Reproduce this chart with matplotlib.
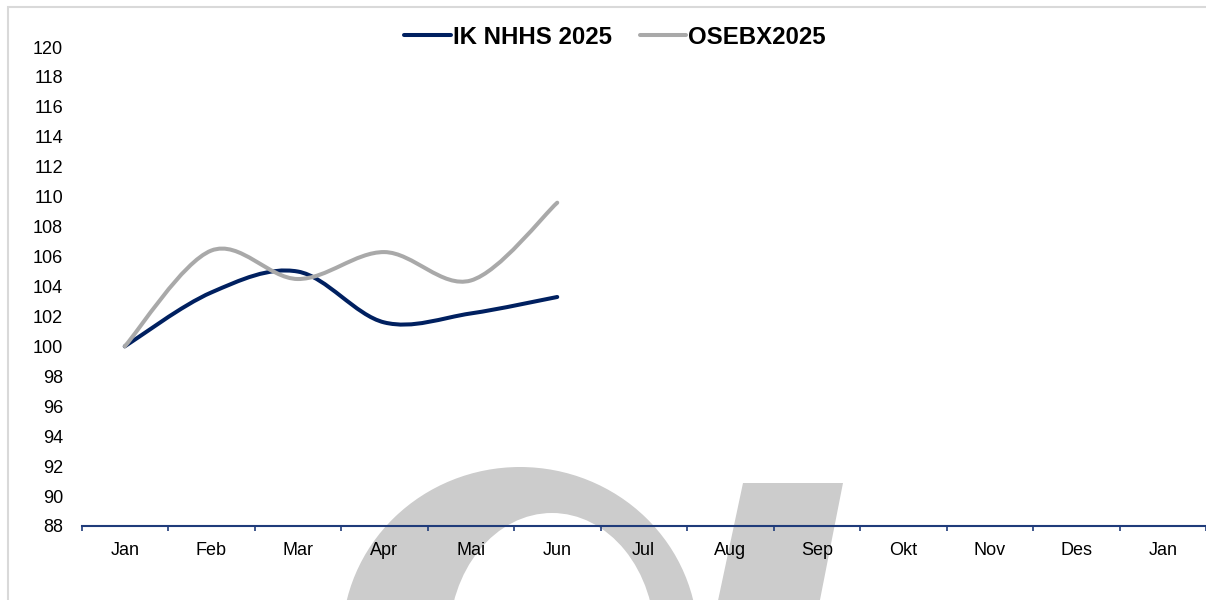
import matplotlib
matplotlib.use("Agg")
import matplotlib.pyplot as plt
import numpy as np
from matplotlib.path import Path
from matplotlib.patches import PathPatch, Ellipse, Polygon, Rectangle
from matplotlib.lines import Line2D

months = ["Jan", "Feb", "Mar", "Apr", "Mai", "Jun", "Jul", "Aug", "Sep", "Okt", "Nov", "Des", "Jan"]
ik_nhhs = [100.0, 103.6, 105.0, 101.6, 102.2, 103.3]
osebx = [100.0, 106.4, 104.5, 106.3, 104.4, 109.6]
y_ticks = list(range(88, 121, 2))

NAVY = "#002060"
GRAY = "#A9A9A9"
AXIS = "#1F3B7A"
WM = "#CCCCCC"

plt.rcParams["font.family"] = ["Liberation Sans", "DejaVu Sans"]

W, H = 1206, 600
fig = plt.figure(figsize=(W / 100, H / 100), dpi=100)
fig.patch.set_facecolor("white")

# watermark shapes (figure pixel coords, origin bottom-left)
def py(y):
    return H - y

outer = Ellipse((520, py(640)), 356, 346, facecolor=WM, edgecolor="none", transform=None, zorder=0)
inner = Ellipse((552, py(640)), 206, 254, facecolor="white", edgecolor="none", transform=None, zorder=0.1)
bar = Polygon([(743, py(483)), (843, py(483)), (818, py(610)), (716, py(610))], closed=True,
              facecolor=WM, edgecolor="none", transform=None, zorder=0.2)
border = Rectangle((8, py(700)), 1300, 693, facecolor="none", edgecolor="#D9D9D9", lw=1.5,
                   transform=None, zorder=0.3)
for p in (outer, inner, bar, border):
    fig.patches.append(p)

left = 81.5 / W
bottom = (H - 526) / H
top = (H - 47) / H
ax = fig.add_axes([left, bottom, 1.0 - left, top - bottom])
ax.set_facecolor("none")
ax.set_zorder(1)

def smooth_path(xs, ys):
    pts = np.column_stack([xs, ys])
    n = len(pts)
    verts = [pts[0]]
    codes = [Path.MOVETO]
    for i in range(n - 1):
        p0 = pts[i - 1] if i > 0 else pts[i]
        p1 = pts[i]
        p2 = pts[i + 1]
        p3 = pts[i + 2] if i + 2 < n else pts[i + 1]
        c1 = p1 + (p2 - p0) / 6.0
        c2 = p2 - (p3 - p1) / 6.0
        verts += [c1, c2, p2]
        codes += [Path.CURVE4] * 3
    return Path(verts, codes)

for data, color in ((ik_nhhs, NAVY), (osebx, GRAY)):
    xs = np.arange(len(data))
    patch = PathPatch(smooth_path(xs, data), facecolor="none", edgecolor=color, lw=2.9,
                      capstyle="round", joinstyle="round", zorder=3)
    ax.add_patch(patch)

ax.set_xlim(-0.5, len(months) - 0.5)
ax.set_ylim(88, 120)
ax.set_yticks(y_ticks)
ax.set_yticklabels([str(v) for v in y_ticks])
ax.set_xticks(range(len(months)))
ax.set_xticklabels(months)
ax.set_xticks(np.arange(-0.5, len(months), 1.0), minor=True)

for s in ("top", "right", "left"):
    ax.spines[s].set_visible(False)
ax.spines["bottom"].set_color(AXIS)
ax.spines["bottom"].set_linewidth(1.5)

ax.tick_params(axis="y", length=0, pad=13.3, labelsize=13, labelcolor="black")
ax.tick_params(axis="x", which="major", length=0, pad=11.7, labelsize=13, labelcolor="black")
ax.tick_params(axis="x", which="minor", length=3.6, width=1.2, color=AXIS, direction="out")

handles = [Line2D([], [], color=NAVY, lw=2.9, solid_capstyle="round"),
           Line2D([], [], color=GRAY, lw=2.9, solid_capstyle="round")]
fig.legend(handles, ["IK NHHS 2025", "OSEBX2025"], loc="center", bbox_to_anchor=(615 / W, 1 - 37 / H),
           ncol=2, frameon=False, handlelength=1.95, handletextpad=0.08, columnspacing=1.15,
           prop={"weight": "bold", "size": 17.3})

fig.savefig("out.png", dpi=100, facecolor="white")
